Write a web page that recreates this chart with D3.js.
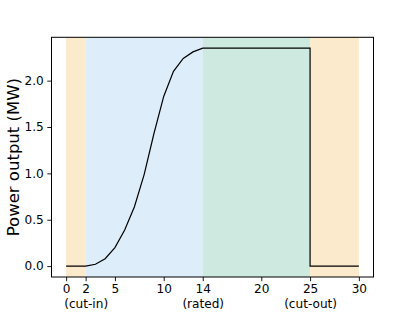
<!DOCTYPE html>
<html>
<head>
<meta charset="utf-8">
<script src="https://cdn.jsdelivr.net/npm/d3@7"></script>
<style>
    body { margin: 0; background: #fff; }
    svg { display: block; font-family: "DejaVu Sans", sans-serif; }
</style>
</head>
<body>
<div id="chart"></div>
<script>
const ctx = {
    w: 415, h: 312,
    margin: {top: 37.3, right: 41.5, bottom: 35, left: 51.5}
};

// wind speed (m/s) and power output (MW) of the turbine curve
const windSpeed = [0, 1, 2, 3, 4, 5, 6, 7, 8, 9, 10, 11, 12, 13, 14, 15, 16, 17, 18, 19, 20,
    21, 22, 23, 24, 25, 25, 26, 27, 28, 29, 30];
const power = [0, 0, 0, 0.02, 0.08, 0.2, 0.39, 0.64, 0.99, 1.43, 1.83, 2.1, 2.24, 2.31, 2.35, 2.35,
    2.35, 2.35, 2.35, 2.35, 2.35, 2.35, 2.35, 2.35, 2.35, 2.35, 0, 0, 0, 0, 0, 0];

// operating regions
const regionStart = [0, 2, 14, 25];
const regionEnd = [2, 14, 25, 30];
const regionColor = ["#fbeacc", "#ddedf9", "#cde9e0", "#fbeacc"];

const xTicks = [0, 2, 5, 10, 14, 20, 25, 30];
const xTickNotes = {2: "(cut-in)", 14: "(rated)", 25: "(cut-out)"};
const yTicks = [0, 0.5, 1.0, 1.5, 2.0];

function drawChart() {
    let svgEl = d3.select("#chart").append("svg")
        .attr("width", ctx.w)
        .attr("height", ctx.h);
    let width = ctx.w - ctx.margin.left - ctx.margin.right;
    let height = ctx.h - ctx.margin.top - ctx.margin.bottom;
    let rootG = svgEl.append("g")
        .attr("transform", "translate(" + ctx.margin.left + "," + ctx.margin.top + ")");

    let pad = d3.max(power) * 0.05;
    let x = d3.scaleLinear().domain([-1.5, 31.5]).range([0, width]);
    let y = d3.scaleLinear().domain([-pad, d3.max(power) + pad]).range([height, 0]);

    // shaded regions
    rootG.selectAll("rect.region")
        .data(regionStart)
        .enter()
        .append("rect")
        .attr("class", "region")
        .attr("x", (d) => x(d))
        .attr("y", 0)
        .attr("width", (d, i) => x(regionEnd[i]) - x(d))
        .attr("height", height)
        .attr("fill", (d, i) => regionColor[i]);

    // power curve
    let line = d3.line()
        .x((d, i) => x(windSpeed[i]))
        .y((d) => y(d));
    rootG.append("path")
        .datum(power)
        .attr("d", line)
        .attr("fill", "none")
        .attr("stroke", "#000")
        .attr("stroke-width", 1.2);

    // axes
    let xAxis = rootG.append("g")
        .attr("transform", "translate(0," + height + ")")
        .call(d3.axisBottom(x).tickValues(xTicks).tickFormat(d3.format("d"))
            .tickSize(4.2).tickPadding(3.5));
    xAxis.selectAll(".tick text")
        .each(function (d) {
            if (xTickNotes[d] !== undefined) {
                d3.select(this).append("tspan")
                    .attr("x", 0)
                    .attr("dy", "1.2em")
                    .text(xTickNotes[d]);
            }
        });

    let yAxis = rootG.append("g")
        .call(d3.axisLeft(y).tickValues(yTicks).tickFormat(d3.format(".1f"))
            .tickSize(4.2).tickPadding(3.5));

    [xAxis, yAxis].forEach((a) => {
        a.select(".domain").remove();
        a.selectAll(".tick line").attr("stroke", "#000").attr("stroke-width", 0.9);
        a.selectAll("text")
            .style("font-size", "12.1px")
            .style("font-family", "DejaVu Sans")
            .attr("fill", "#000");
    });

    // frame
    rootG.append("rect")
        .attr("x", 0)
        .attr("y", 0)
        .attr("width", width)
        .attr("height", height)
        .attr("fill", "none")
        .attr("stroke", "#000")
        .attr("stroke-width", 1);

    // y label
    svgEl.append("text")
        .attr("transform", "translate(19," + (ctx.margin.top + height / 2) + ") rotate(-90)")
        .attr("text-anchor", "middle")
        .style("font-size", "16.5px")
        .style("font-family", "DejaVu Sans")
        .text("Power output (MW)");
}

drawChart();
</script>
</body>
</html>
